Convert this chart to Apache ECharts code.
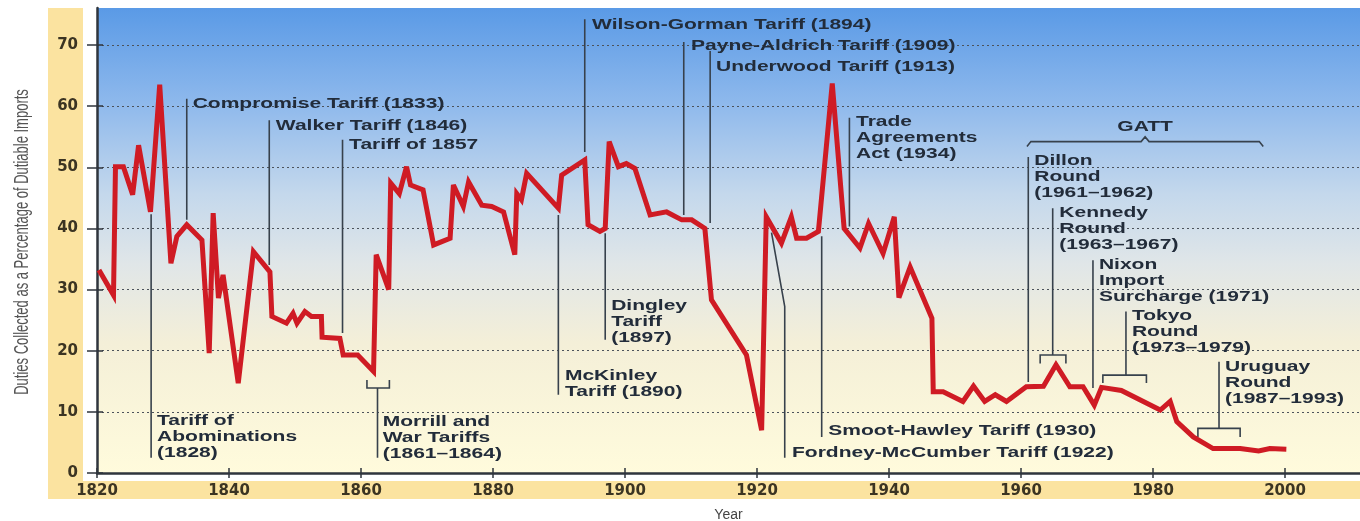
<!DOCTYPE html>
<html><head><meta charset="utf-8">
<script src="https://cdn.jsdelivr.net/npm/echarts@6/dist/echarts.min.js"></script>
<style>html,body{margin:0;padding:0;background:#fff}#c{width:1360px;height:521px}</style>
</head><body><div id="c"></div>
<script>
// ---- data ----
const years = [1820.3,1822.5,1822.8,1824.0,1825.4,1826.3,1828.1,1829.5,1831.2,1832.1,1833.6,1835.9,1837.0,1837.6,1838.4,1839.1,1841.4,1843.7,1846.2,1846.5,1848.7,1849.7,1850.3,1851.5,1852.5,1854.0,1854.1,1856.8,1857.3,1859.5,1861.9,1862.3,1864.2,1864.5,1865.8,1866.9,1867.5,1869.4,1871.0,1873.5,1874.0,1875.5,1876.3,1878.3,1879.8,1881.6,1883.3,1883.6,1884.3,1885.1,1889.9,1890.4,1893.9,1894.4,1896.2,1897.0,1897.6,1899.0,1900.2,1901.5,1903.8,1906.3,1908.6,1910.1,1912.1,1913.1,1918.4,1920.7,1921.4,1923.7,1925.2,1926.0,1927.5,1929.3,1931.4,1933.2,1935.6,1936.9,1939.1,1940.8,1941.5,1943.2,1946.5,1946.7,1948.2,1951.2,1952.8,1954.5,1956.1,1957.8,1960.8,1963.4,1965.3,1967.4,1969.4,1971.1,1972.2,1975.2,1981.1,1982.6,1983.6,1986.1,1989.1,1993.2,1996.0,1997.7,2000.2];
const duties = [33.2,29.1,50.1,50.1,45.5,53.6,42.7,63.5,34.3,38.7,40.6,38.1,19.6,42.5,28.6,32.4,14.7,36.2,32.9,25.6,24.5,26.1,24.5,26.4,25.6,25.6,22.2,22.0,19.3,19.3,16.6,35.7,30.0,47.4,45.7,50.1,47.1,46.3,37.3,38.4,47.1,43.6,47.6,43.8,43.6,42.7,35.7,45.7,44.7,49.0,43.3,48.7,51.2,40.6,39.5,40.0,54.2,50.1,50.6,49.8,42.2,42.7,41.4,41.4,40.0,28.3,19.3,7.0,41.9,37.6,41.9,38.4,38.4,39.5,63.7,40.0,36.8,40.8,35.9,41.9,28.7,33.7,25.3,13.3,13.3,11.7,14.2,11.7,12.8,11.7,14.1,14.2,17.7,14.1,14.1,11.1,14.0,13.5,10.3,11.7,8.4,5.9,4.0,4.0,3.6,4.0,3.9];
const xTickLabels = [1820,1840,1860,1880,1900,1920,1940,1960,1980,2000];
const yTickLabels = [0,10,20,30,40,50,60,70];

const annotationTexts = [
  'Tariff of\nAbominations\n(1828)',
  'Compromise Tariff (1833)',
  'Walker Tariff (1846)',
  'Tariff of 1857',
  'Morrill and\nWar Tariffs\n(1861\u20131864)',
  'Wilson-Gorman Tariff (1894)',
  'Payne-Aldrich Tariff (1909)',
  'Underwood Tariff (1913)',
  'Trade\nAgreements\nAct (1934)',
  'Smoot-Hawley Tariff (1930)',
  'Fordney-McCumber Tariff (1922)',
  'Dingley\nTariff\n(1897)',
  'McKinley\nTariff (1890)',
  'GATT',
  'Dillon\nRound\n(1961\u20131962)',
  'Kennedy\nRound\n(1963\u20131967)',
  'Nixon\nImport\nSurcharge (1971)',
  'Tokyo\nRound\n(1973\u20131979)',
  'Uruguay\nRound\n(1987\u20131993)'
];
// [year, value] of the top-left corner of each annotation text
const annotationAnchors = [
  [1829.1,9.8],[1834.5,61.7],[1847.1,58.1],[1858.2,54.9],[1863.3,9.6],
  [1895.0,74.6],[1910.0,71.1],[1913.8,67.7],[1935.0,58.7],[1930.8,8.2],
  [1925.3,4.6],[1897.9,28.6],[1890.9,17.2],[1978.8,57.9],[1962.0,52.3],
  [1965.8,43.8],[1971.8,35.3],[1976.8,27.0],[1990.9,18.6]
];
// leader lines and brackets, in [year, value] coordinates
const leaderPaths = [
  [[1828.2,42.3],[1828.2,2.5]],
  [[1833.6,61.2],[1833.6,41.4]],
  [[1846.1,57.7],[1846.1,34.0]],
  [[1857.2,54.5],[1857.2,22.9]],
  [[1860.9,15.2],[1860.9,13.9],[1864.3,13.9],[1864.3,15.2]],
  [[1862.5,13.9],[1862.5,2.5]],
  [[1893.9,74.2],[1893.9,52.5]],
  [[1908.9,70.5],[1908.9,42.2]],
  [[1912.9,69.0],[1912.9,40.9]],
  [[1934.0,58.1],[1934.0,40.3]],
  [[1929.8,38.7],[1929.8,5.9]],
  [[1922.2,39.3],[1924.2,27.2],[1924.2,2.5]],
  [[1897.0,39.2],[1897.0,21.8]],
  [[1889.9,42.2],[1889.9,12.8]],
  [[1960.9,53.4],[1961.5,54.2],[1978.2,54.2],[1978.8,55.0],[1979.4,54.2],[1996.1,54.2],[1996.7,53.4]],
  [[1961.1,51.7],[1961.1,14.9]],
  [[1964.8,43.3],[1964.8,19.3]],
  [[1962.9,17.9],[1962.9,19.3],[1966.8,19.3],[1966.8,17.9]],
  [[1970.9,34.8],[1970.9,13.9]],
  [[1975.9,26.4],[1975.9,16.0]],
  [[1972.4,14.7],[1972.4,16.0],[1979.0,16.0],[1979.0,14.7]],
  [[1990.0,18.2],[1990.0,7.3]],
  [[1986.8,5.9],[1986.8,7.3],[1993.2,7.3],[1993.2,5.9]]
];

// ---- chart ----
const chart = echarts.init(document.getElementById('c'), null, {renderer:'canvas'});
const axisColor = '#2f353d';
const labelFont = {fontFamily:'DejaVu Sans', fontWeight:'bold', fontSize:15, color:'#3b3422'};
const option = {
  animation:false,
  backgroundColor:'#ffffff',
  grid:{left:97,right:0,top:8,bottom:48,containLabel:false,outerBoundsMode:'none',
    show:true,borderWidth:0,
    backgroundColor:{type:'linear',x:0,y:0,x2:0,y2:1,colorStops:[
      {offset:0,color:'#5a9ae6'},{offset:0.2,color:'#8db8ec'},{offset:0.4,color:'#c4d8ec'},
      {offset:0.55,color:'#e0e6e8'},{offset:0.72,color:'#f4efd8'},{offset:1,color:'#fffbdc'}]}},
  xAxis:[
    {type:'value',min:1820,max:2011.36,interval:20,position:'bottom',
     axisLine:{show:true,lineStyle:{color:axisColor,width:2.5}},
     axisTick:{show:true,length:5,lineStyle:{color:axisColor,width:1.5},customValues:xTickLabels},
     axisLabel:Object.assign({margin:11,customValues:xTickLabels,
       formatter:v=> xTickLabels.indexOf(v)>=0 ? String(v) : ''},labelFont),
     splitLine:{show:false},
     name:'Year',nameLocation:'middle',nameGap:35,
     nameTextStyle:{fontFamily:'Liberation Sans',fontSize:14,color:'#444'}},
    {type:'value',min:1820,max:2011.36,interval:20,position:'bottom',
     axisLine:{show:false},
     axisTick:{show:true,inside:true,length:5,lineStyle:{color:axisColor,width:1.5},customValues:xTickLabels},
     axisLabel:{show:false},splitLine:{show:false}}
  ],
  yAxis:[
    {type:'value',min:0,max:76.05,interval:10,position:'left',
     axisLine:{show:true,lineStyle:{color:axisColor,width:2.5}},
     axisTick:{show:true,length:10,lineStyle:{color:axisColor,width:1.5},customValues:yTickLabels},
     axisLabel:Object.assign({margin:19,customValues:yTickLabels,
       formatter:v=> yTickLabels.indexOf(v)>=0 ? String(v) : ''},labelFont),
     splitLine:{show:true,showMinLine:false,lineStyle:{color:'#4c535b',width:1.2,type:[2,3]}}},
    {type:'value',min:0,max:76.05,interval:10,position:'left',
     axisLine:{show:false},
     axisTick:{show:true,inside:true,length:6,lineStyle:{color:axisColor,width:1.5},customValues:yTickLabels},
     axisLabel:{show:false},splitLine:{show:false}}
  ],
  series:[
    {type:'lines',coordinateSystem:'cartesian2d',polyline:true,silent:true,z:3,
     xAxisIndex:0,yAxisIndex:0,
     lineStyle:{color:'#37414c',width:1.6,opacity:1},
     data:leaderPaths.map(c=>({coords:c}))},
    {type:'line',xAxisIndex:0,yAxisIndex:0,z:5,showSymbol:false,symbol:'none',
     lineStyle:{color:'#cf1b24',width:5,join:'miter',miterLimit:4},
     data:years.map((y,i)=>[y,duties[i]])}
  ],
  graphic:[
    {type:'rect',z:-10,shape:{x:48,y:8,width:35,height:491},style:{fill:'#fbe3a0'}},
    {type:'rect',z:-10,shape:{x:48,y:481,width:1312,height:18},style:{fill:'#fbe3a0'}},
    {type:'text',x:22,y:242,rotation:Math.PI/2,scaleY:1.6,
     style:{text:'Duties Collected as a Percentage of Dutiable Imports',font:'13px "Liberation Sans"',
       fill:'#555555',align:'center',verticalAlign:'middle'}}
  ]
};
chart.setOption(option);

const textEls = annotationTexts.map((t,i)=>{
  const p = chart.convertToPixel({xAxisIndex:0,yAxisIndex:0}, annotationAnchors[i]);
  return {type:'text',x:p[0],y:p[1],scaleX:1.4,z:10,
    style:{text:t,font:'bold 15px "Liberation Sans"',fill:'#222c3a',lineHeight:16,
      align: t==='GATT' ? 'center' : 'left',verticalAlign:'top'}};
});
chart.setOption({graphic: option.graphic.concat(textEls)});
</script></body></html>
